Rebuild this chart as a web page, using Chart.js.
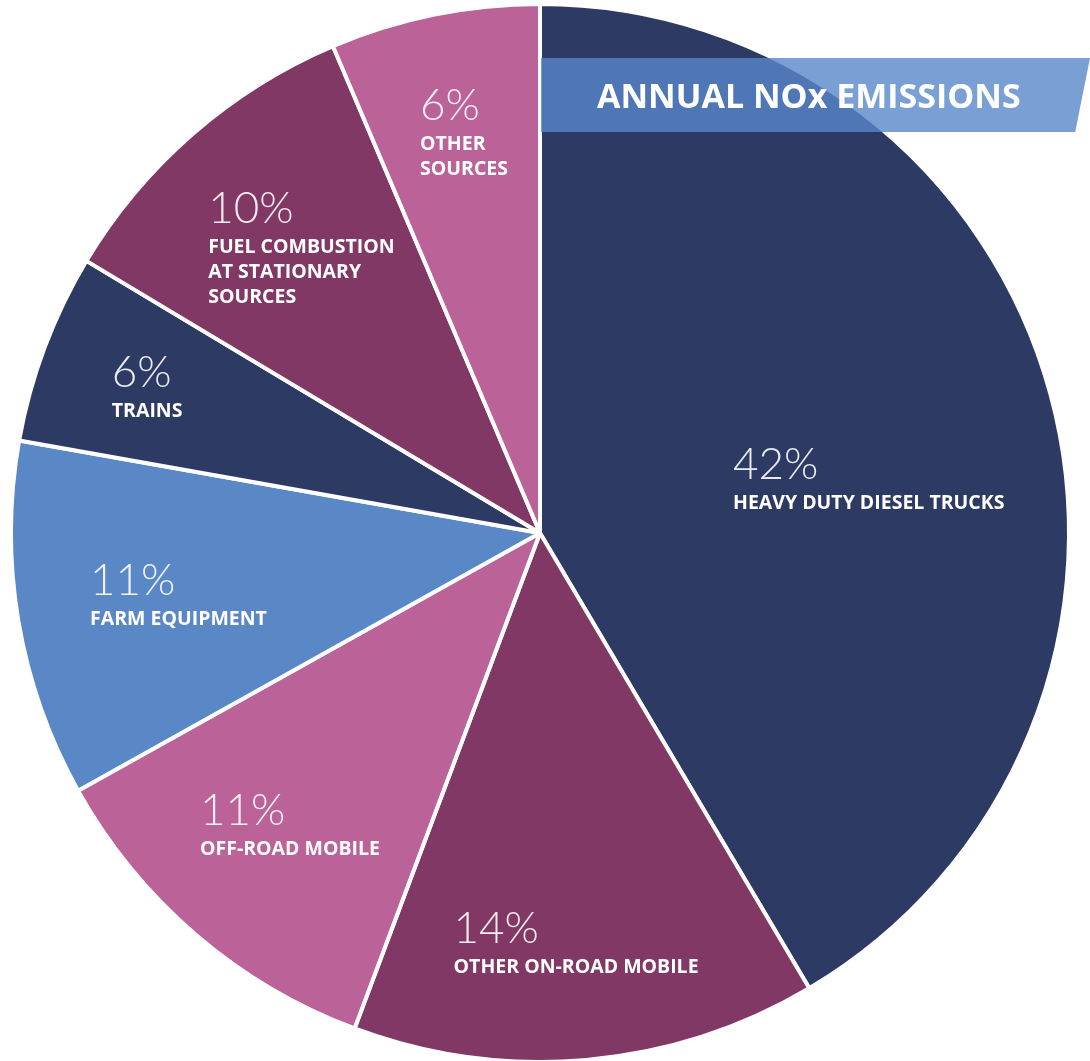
<!DOCTYPE html>
<html>
<head>
<meta charset="utf-8">
<script src="https://cdn.jsdelivr.net/npm/chart.js@4"></script>
<style>
  body { margin: 0; background: #fff; }
  #wrap { position: relative; width: 1090px; height: 1061px; }
  #banner {
    position: absolute; left: 541px; top: 58px; width: 549px; height: 74px;
    background: rgba(89, 135, 201, 0.8);
    clip-path: polygon(0 0, 100% 0, 97.3% 100%, 0 100%);
    color: #fff; font: bold 34px "Open Sans", sans-serif; line-height: 74px;
    padding-left: 56px; box-sizing: border-box; white-space: nowrap;
  }
</style>
</head>
<body>
<div id="wrap">
  <canvas id="noxChart"></canvas>
  <div id="banner">ANNUAL NOx EMISSIONS</div>
</div>
<script>
const categories = ['Heavy Duty Diesel Trucks', 'Other On-Road Mobile', 'Off-Road Mobile',
  'Farm Equipment', 'Trains', 'Fuel Combustion at Stationary Sources', 'Other Sources'];
// slice sizes as drawn (labels show them rounded)
const shares = [41.5, 14.2, 11.2, 10.9, 5.8, 10.0, 6.4];
const labelLines = [
  ['HEAVY DUTY DIESEL TRUCKS'],
  ['OTHER ON-ROAD MOBILE'],
  ['OFF-ROAD MOBILE'],
  ['FARM EQUIPMENT'],
  ['TRAINS'],
  ['FUEL COMBUSTION', 'AT STATIONARY', 'SOURCES'],
  ['OTHER', 'SOURCES']
];

const colors = ['#2d3a64', '#823864', '#bb6298', '#5a88c6', '#2d3a64', '#823864', '#bb6298'];
// where each text block sits: fraction of radius, and a nudge (degrees) off the slice middle
const labelRadius = [0.63, 0.776, 0.725, 0.693, 0.793, 0.704, 0.772];
const labelNudge = [5.8, 0, 0, 0, 0, 1.2, 0.8];

const sliceLabels = {
  id: 'sliceLabels',
  afterDatasetsDraw(chart) {
    const ctx = chart.ctx;
    const meta = chart.getDatasetMeta(0);
    meta.data.forEach((arc, i) => {
      const p = arc.getProps(['x', 'y', 'startAngle', 'endAngle', 'outerRadius'], true);
      const mid = (p.startAngle + p.endAngle) / 2 + labelNudge[i] * Math.PI / 180;
      const r = p.outerRadius * labelRadius[i];
      const cx = p.x + Math.cos(mid) * r;
      const cy = p.y + Math.sin(mid) * r;

      const pctFont = '300 44px Lato, sans-serif';
      const lblFont = 'bold 19.5px "Open Sans", sans-serif';
      const pct = Math.round(shares[i]) + '%';
      ctx.save();
      ctx.font = pctFont;
      let w = ctx.measureText(pct).width;
      ctx.font = lblFont;
      labelLines[i].forEach(l => { w = Math.max(w, ctx.measureText(l).width); });

      const n = labelLines[i].length;
      const h = 55 + 25 * (n - 1) + 7.5;
      const left = cx - w / 2;
      const top = cy - h / 2;

      ctx.textAlign = 'left';
      ctx.textBaseline = 'alphabetic';
      ctx.fillStyle = 'rgba(255,255,255,0.9)';
      ctx.font = pctFont;
      ctx.fillText(pct, left, top + 32);
      ctx.fillStyle = '#fff';
      ctx.font = lblFont;
      labelLines[i].forEach((l, j) => {
        ctx.fillText(l, left, top + 55 + 25 * j + 7);
      });
      ctx.restore();
    });
  }
};

new Chart(document.getElementById('noxChart'), {
  type: 'pie',
  data: {
    labels: categories,
    datasets: [{
      data: shares,
      backgroundColor: colors,
      borderColor: '#fff',
      borderWidth: 4
    }]
  },
  options: {
    responsive: true,
    maintainAspectRatio: false,
    animation: false,
    radius: 529,
    layout: { padding: { left: 0, right: 10, top: 5, bottom: 0 } },
    plugins: {
      legend: { display: false },
      tooltip: { enabled: false }
    }
  },
  plugins: [sliceLabels]
});
</script>
</body>
</html>
